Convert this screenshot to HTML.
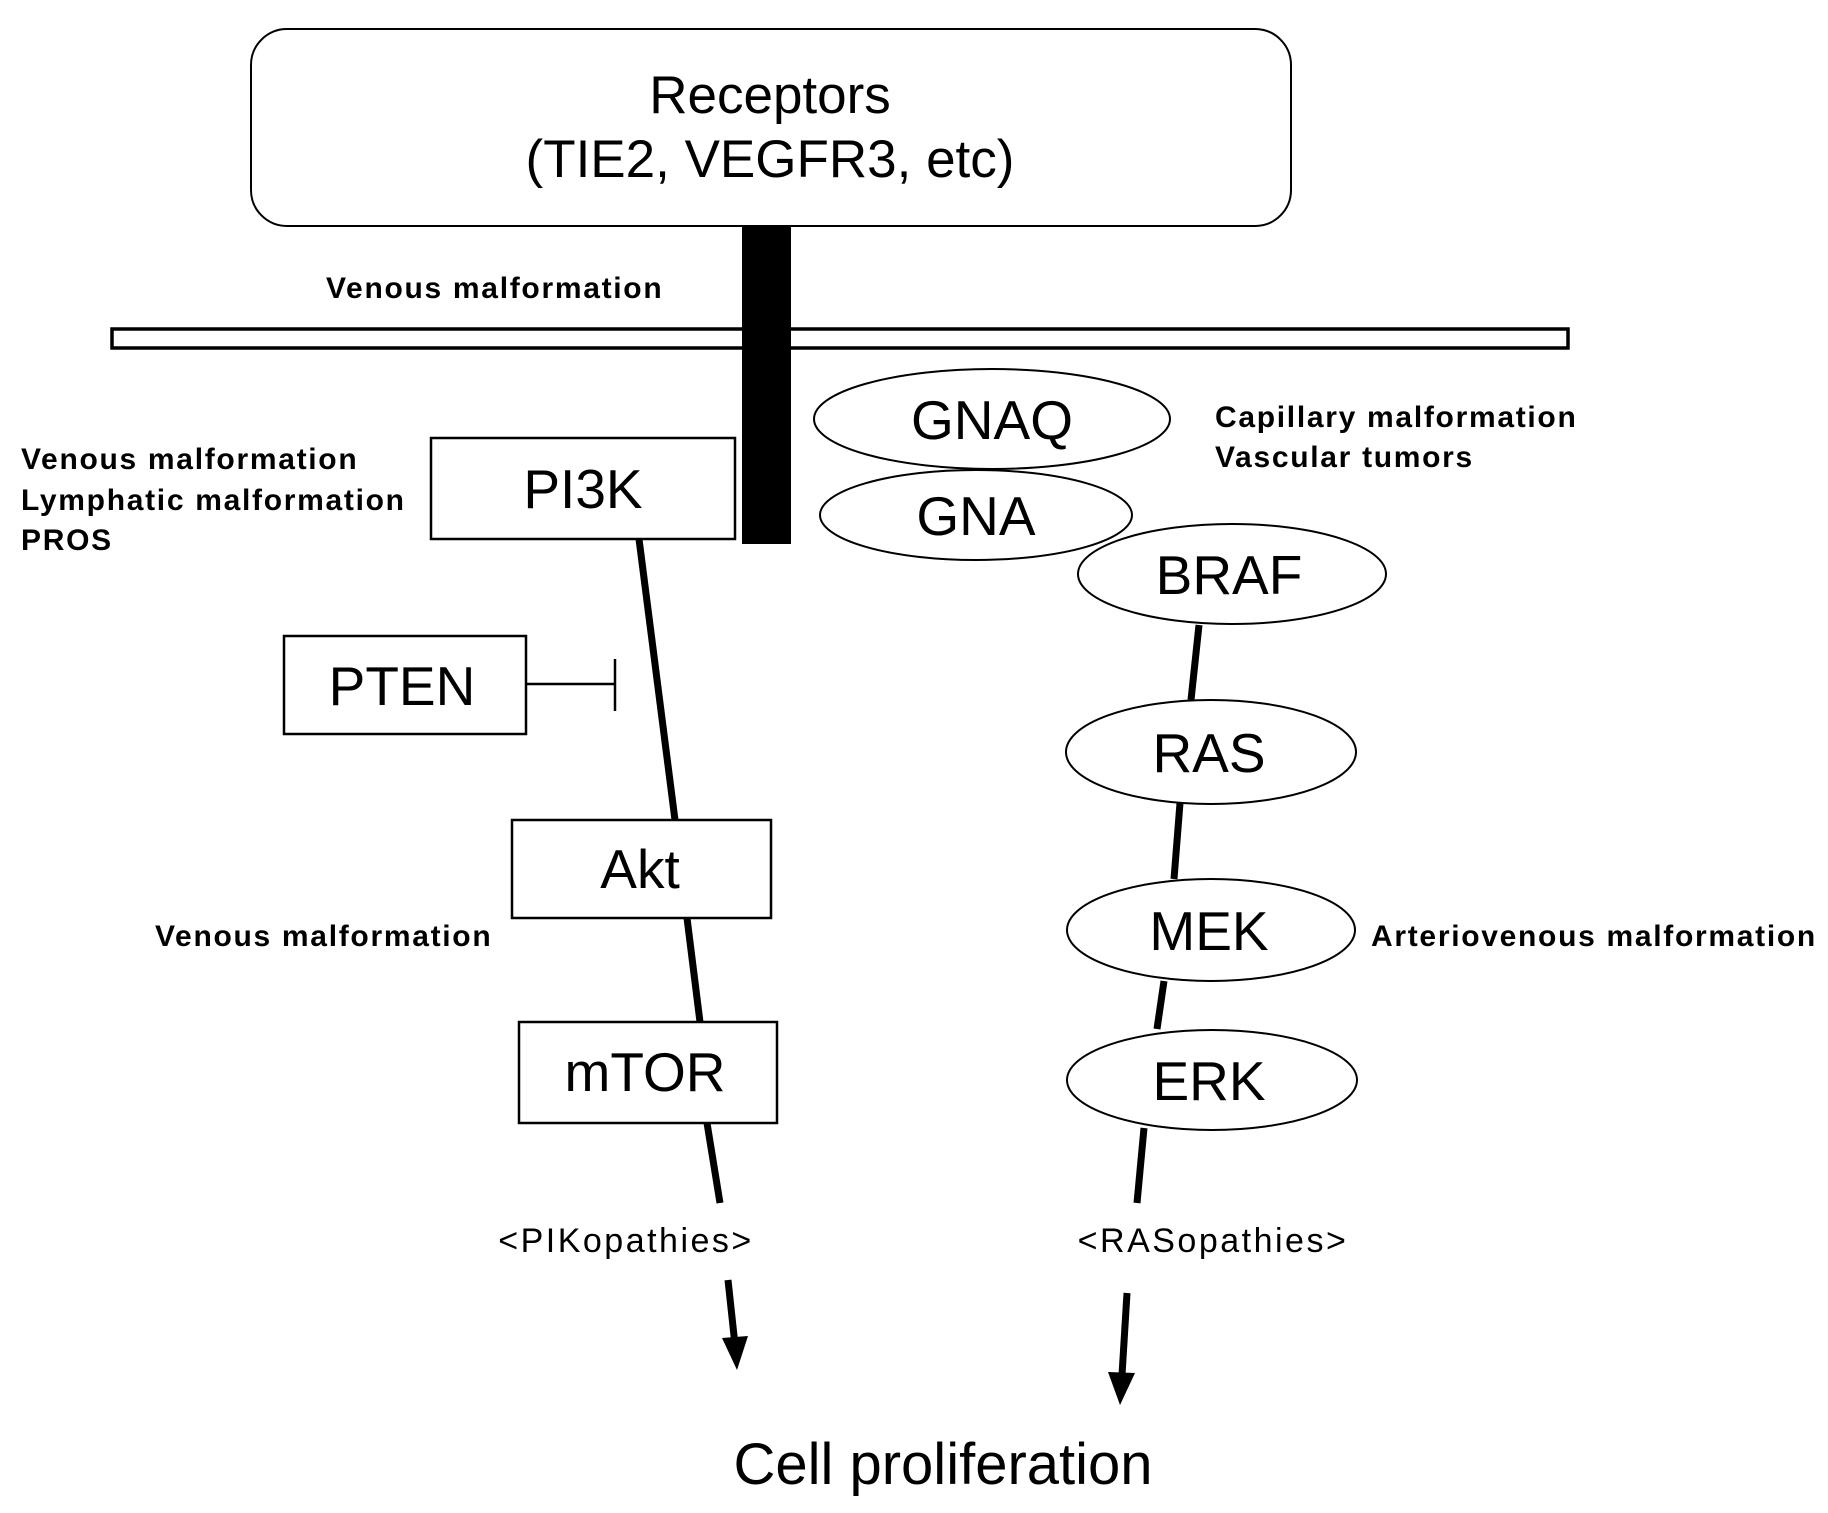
<!DOCTYPE html>
<html><head><meta charset="utf-8"><style>
html,body{margin:0;padding:0;background:#fff;}
svg{display:block;}
text{font-family:"Liberation Sans",Arial,sans-serif;fill:#000;}
.b{font-weight:bold;font-size:30px;letter-spacing:1.7px;}
.big{font-size:55px;}
.s{font-size:34px;letter-spacing:2.5px;}
</style></head><body>
<svg width="1828" height="1513" viewBox="0 0 1828 1513" xmlns="http://www.w3.org/2000/svg">
<rect x="251" y="29" width="1040" height="197" rx="36" fill="#fff" stroke="#000" stroke-width="2"/>
<text x="770" y="113" font-size="53" text-anchor="middle">Receptors</text>
<text x="770" y="177" font-size="53" text-anchor="middle">(TIE2, VEGFR3, etc)</text>
<rect x="112" y="329" width="1456" height="19" fill="#fff" stroke="#000" stroke-width="3.5"/>
<rect x="742" y="226" width="49" height="318" fill="#000"/>
<text class="b" x="326" y="298">Venous malformation</text>
<rect x="431" y="438" width="304" height="101" fill="#fff" stroke="#000" stroke-width="2.5"/>
<text class="big" x="583" y="508" text-anchor="middle">PI3K</text>
<text class="b" x="21" y="469">Venous malformation</text>
<text class="b" x="21" y="510">Lymphatic malformation</text>
<text class="b" x="21" y="550">PROS</text>
<rect x="284" y="636" width="242" height="98" fill="#fff" stroke="#000" stroke-width="2.5"/>
<text class="big" x="402" y="705" text-anchor="middle">PTEN</text>
<line x1="526" y1="684" x2="615" y2="684" stroke="#000" stroke-width="2.5"/>
<line x1="615" y1="659" x2="615" y2="711" stroke="#000" stroke-width="2.5"/>
<line x1="639" y1="539" x2="675" y2="820" stroke="#000" stroke-width="7"/>
<line x1="687" y1="918" x2="700" y2="1022" stroke="#000" stroke-width="7"/>
<line x1="707" y1="1123" x2="720" y2="1203" stroke="#000" stroke-width="7"/>
<rect x="512" y="820" width="259" height="98" fill="#fff" stroke="#000" stroke-width="2.5"/>
<text class="big" x="640" y="888" text-anchor="middle">Akt</text>
<text class="b" x="155" y="946">Venous malformation</text>
<rect x="519" y="1022" width="258" height="101" fill="#fff" stroke="#000" stroke-width="2.5"/>
<text class="big" x="645" y="1091" text-anchor="middle" font-size="53">mTOR</text>
<text class="s" x="626" y="1252" text-anchor="middle">&lt;PIKopathies&gt;</text>
<line x1="728" y1="1280" x2="735" y2="1345" stroke="#000" stroke-width="7"/>
<polygon points="722,1338 748,1336 737,1370" fill="#000"/>
<line x1="1199" y1="625" x2="1191" y2="700" stroke="#000" stroke-width="7"/>
<line x1="1180" y1="803" x2="1174" y2="879" stroke="#000" stroke-width="7"/>
<line x1="1164" y1="981" x2="1157" y2="1029" stroke="#000" stroke-width="7"/>
<line x1="1144" y1="1128" x2="1137" y2="1203" stroke="#000" stroke-width="7"/>
<line x1="1127" y1="1293" x2="1122" y2="1375" stroke="#000" stroke-width="7"/>
<polygon points="1108,1372 1135,1373 1120,1405" fill="#000"/>
<ellipse cx="992" cy="419" rx="178" ry="50" fill="#fff" stroke="#000" stroke-width="2"/>
<text class="big" x="992" y="439" text-anchor="middle">GNAQ</text>
<ellipse cx="976" cy="515" rx="156" ry="45" fill="#fff" stroke="#000" stroke-width="2"/>
<text class="big" x="976" y="535" text-anchor="middle">GNA</text>
<ellipse cx="1232" cy="574" rx="154" ry="50" fill="#fff" stroke="#000" stroke-width="2"/>
<text class="big" x="1229" y="594" text-anchor="middle">BRAF</text>
<ellipse cx="1211" cy="752" rx="145" ry="52" fill="#fff" stroke="#000" stroke-width="2"/>
<text class="big" x="1209" y="772" text-anchor="middle">RAS</text>
<ellipse cx="1211" cy="930" rx="144" ry="51" fill="#fff" stroke="#000" stroke-width="2"/>
<text class="big" x="1209" y="950" text-anchor="middle">MEK</text>
<ellipse cx="1212" cy="1080" rx="145" ry="50" fill="#fff" stroke="#000" stroke-width="2"/>
<text class="big" x="1209" y="1100" text-anchor="middle">ERK</text>
<text class="b" x="1215" y="427">Capillary malformation</text>
<text class="b" x="1215" y="467">Vascular tumors</text>
<text class="b" x="1371" y="946">Arteriovenous malformation</text>
<text class="s" x="1213" y="1252" text-anchor="middle">&lt;RASopathies&gt;</text>
<text x="943" y="1484" font-size="58" text-anchor="middle">Cell proliferation</text>
</svg>
</body></html>
